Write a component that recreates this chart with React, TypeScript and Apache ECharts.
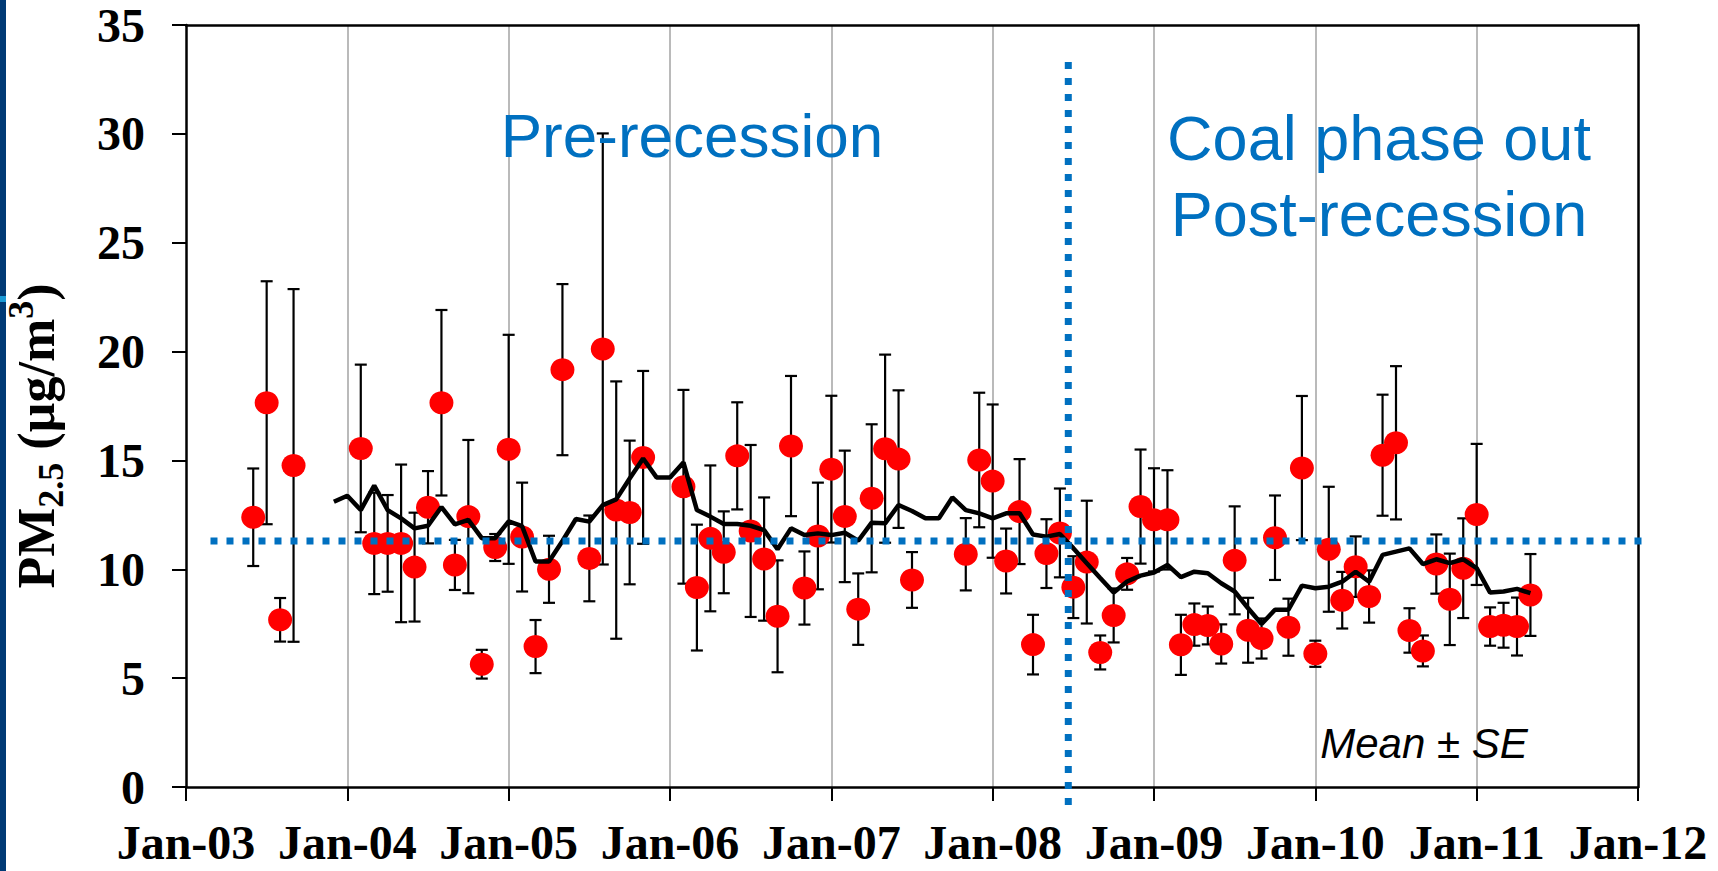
import { useEffect, useRef } from 'react';
import * as echarts from 'echarts';

// Monthly PM2.5 means (µg/m³) with their standard errors
const sampleMonths = [
  '2003-06', '2003-07', '2003-08', '2003-09',
  '2004-02', '2004-03', '2004-04', '2004-05', '2004-06', '2004-07', '2004-08', '2004-09', '2004-10', '2004-11', '2004-12',
  '2005-01', '2005-02', '2005-03', '2005-04', '2005-05', '2005-07', '2005-08', '2005-09', '2005-10', '2005-11',
  '2006-02', '2006-03', '2006-04', '2006-05', '2006-06', '2006-07', '2006-08', '2006-09', '2006-10', '2006-11', '2006-12',
  '2007-01', '2007-02', '2007-03', '2007-04', '2007-05', '2007-06', '2007-07', '2007-11', '2007-12',
  '2008-01', '2008-02', '2008-03', '2008-04', '2008-05', '2008-06', '2008-07', '2008-08', '2008-09', '2008-10', '2008-11', '2008-12',
  '2009-01', '2009-02', '2009-03', '2009-04', '2009-05', '2009-06', '2009-07', '2009-08', '2009-09', '2009-10', '2009-11', '2009-12',
  '2010-01', '2010-02', '2010-03', '2010-04', '2010-05', '2010-06', '2010-07', '2010-08', '2010-09', '2010-10', '2010-11', '2010-12',
  '2011-01', '2011-02', '2011-03', '2011-04', '2011-05',
];

const pmMean = [
  12.39, 17.65, 7.68, 14.77,
  15.55, 11.19, 11.19, 11.19, 10.1, 12.85, 17.65, 10.2, 12.42, 5.64, 11.0,
  15.51, 11.48, 6.45, 10.0, 19.17, 10.5, 20.12, 12.72, 12.61, 15.14,
  13.79, 9.16, 11.42, 10.78, 15.21, 11.76, 10.47, 7.84, 15.66, 9.14, 11.53,
  14.6, 12.43, 8.17, 13.26, 15.54, 15.06, 9.51, 10.69, 15.02,
  14.05, 10.38, 12.65, 6.54, 10.72, 11.67, 9.18, 10.33, 6.18, 7.88, 9.79, 12.88,
  12.27, 12.27, 6.53, 7.46, 7.42, 6.57, 10.41, 7.2, 6.82, 11.45, 7.34, 14.65,
  6.12, 10.92, 8.58, 10.12, 8.75, 15.24, 15.81, 7.19, 6.25, 10.24, 8.62, 10.05,
  12.52, 7.37, 7.43, 7.37, 8.82,
];

const pmSE = [
  2.24, 5.58, 1.0, 8.1,
  3.85, 2.33, 2.22, 3.62, 2.5, 1.66, 4.26, 1.15, 3.52, 0.66, 0.62,
  5.26, 2.5, 1.22, 1.54, 3.93, 1.97, 9.9, 5.91, 3.3, 3.97,
  4.45, 2.89, 3.35, 1.88, 2.46, 3.95, 2.83, 2.57, 3.22, 1.68, 2.45,
  3.37, 3.02, 1.64, 3.4, 4.32, 3.16, 1.28, 1.66, 3.09,
  3.52, 1.49, 2.41, 1.37, 1.58, 2.04, 1.42, 2.82, 0.78, 1.24, 0.73, 2.62,
  2.37, 2.28, 1.38, 0.97, 0.87, 0.9, 2.48, 1.49, 0.92, 1.94, 1.31, 3.31,
  0.6, 2.87, 1.3, 1.39, 1.2, 2.78, 3.52, 1.02, 0.71, 1.36, 2.1, 2.29,
  3.24, 0.88, 1.03, 1.33, 1.88,
];

// Running mean, one value per month starting at trendStart
const trendStart = '2003-12';
const trendValues = [
  13.1,
  13.38, 12.72, 13.84, 12.72, 12.34, 11.88, 12.0, 12.86, 12.06, 12.27, 11.43, 11.43,
  12.2, 11.98, 10.36, 10.36, 11.3, 12.31, 12.19, 12.95, 13.21, 14.17, 15.09, 14.22,
  14.22, 14.91, 12.72, 12.42, 12.08, 12.08, 12.0, 11.8, 10.92, 11.88, 11.57, 11.65,
  11.57, 11.68, 11.31, 12.14, 12.11, 12.95, 12.68, 12.34, 12.34, 13.3, 12.72, 12.57,
  12.34, 12.57, 12.57, 11.6, 11.5, 11.62, 10.97, 10.28, 9.6, 8.93, 9.44, 9.71,
  9.85, 10.2, 9.64, 9.89, 9.82, 9.36, 8.98, 8.21, 7.49, 8.14, 8.14, 9.25,
  9.13, 9.2, 9.43, 9.89, 9.43, 10.66, 10.81, 10.96, 10.24, 10.46, 10.28, 10.46,
  10.05, 8.93, 8.98, 9.1, 8.9,
];

// Overall mean level and the phase boundary
const overallMean = 11.3;
const overallMeanSpan = ['2003-02-26', '2012-02-14'];
const phaseBreak = '2008-06-20';
const phaseBreakSpan = [33.3, -1.1];

const xTickLabels = ['Jan-03', 'Jan-04', 'Jan-05', 'Jan-06', 'Jan-07', 'Jan-08', 'Jan-09', 'Jan-10', 'Jan-11', 'Jan-12'];
const yTicks = { min: 0, max: 35, step: 5 };

const BASE_YEAR = 2003;
const toX = (date: string) => {
  const [y, m, d] = date.split('-').map(Number);
  return (y - BASE_YEAR) + (m - 1) / 12 + ((d || 1) - 1) / 365;
};

const SERIF = '"Liberation Serif", "Times New Roman", serif';
const SANS = '"Liberation Sans", Arial, sans-serif';
const BLUE = '#0070C0';

export default function App() {
  const ref = useRef<HTMLDivElement>(null);

  useEffect(() => {
    document.body.style.margin = '0';
    if (!ref.current) return;
    const chart = echarts.init(ref.current, undefined, { renderer: 'svg' });

    const points = sampleMonths.map((m, i) => [toX(m), pmMean[i]]);
    const bars = sampleMonths.map((m, i) => [toX(m), pmMean[i] - pmSE[i], pmMean[i] + pmSE[i]]);
    const trendX0 = toX(trendStart);
    const trend = trendValues.map((v, i) => [trendX0 + i / 12, v]);
    const meanLine = overallMeanSpan.map((d) => [toX(d), overallMean]);
    const breakLine = phaseBreakSpan.map((v) => [toX(phaseBreak), v]);

    const axisLineStyle = { color: '#000', width: 2.5 };
    const dotted = { color: BLUE, width: 7, type: [7, 9] as number[], cap: 'butt' as const };

    chart.setOption({
      animation: false,
      grid: { left: 186, right: 80, top: 25, bottom: 84, containLabel: false },
      xAxis: [
        {
          type: 'value',
          min: 0,
          max: xTickLabels.length - 1,
          interval: 1,
          position: 'bottom',
          axisLine: { show: true, onZero: false, lineStyle: axisLineStyle },
          axisTick: { show: true, inside: false, length: 14, lineStyle: { color: '#000', width: 2 } },
          axisLabel: {
            formatter: (v: number) => xTickLabels[Math.round(v)] ?? '',
            fontFamily: SERIF,
            fontWeight: 'bold',
            fontSize: 48,
            color: '#000',
            margin: 31,
          },
          splitLine: {
            show: true,
            showMinLine: false,
            showMaxLine: false,
            lineStyle: { color: '#a3a3a3', width: 1.5 },
          },
        },
        {
          type: 'value',
          min: 0,
          max: xTickLabels.length - 1,
          position: 'top',
          axisLine: { show: true, onZero: false, lineStyle: axisLineStyle },
          axisTick: { show: false },
          axisLabel: { show: false },
          splitLine: { show: false },
        },
      ],
      yAxis: [
        {
          type: 'value',
          min: yTicks.min,
          max: yTicks.max,
          interval: yTicks.step,
          axisLine: { show: true, onZero: false, lineStyle: axisLineStyle },
          axisTick: { show: true, inside: false, length: 14, lineStyle: { color: '#000', width: 2 } },
          axisLabel: {
            fontFamily: SERIF,
            fontWeight: 'bold',
            fontSize: 48,
            color: '#000',
            margin: 41,
          },
          splitLine: { show: false },
        },
        {
          type: 'value',
          min: yTicks.min,
          max: yTicks.max,
          position: 'right',
          axisLine: { show: true, onZero: false, lineStyle: axisLineStyle },
          axisTick: { show: false },
          axisLabel: { show: false },
          splitLine: { show: false },
        },
      ],
      series: [
        {
          name: 'SE',
          type: 'custom',
          z: 2,
          clip: false,
          encode: { x: 0, y: [1, 2] },
          data: bars,
          renderItem: (_params: any, api: any) => {
            const x = api.value(0);
            const lo = api.coord([x, api.value(1)]);
            const hi = api.coord([x, api.value(2)]);
            const hw = 6;
            const style = { stroke: '#000', lineWidth: 2.2 };
            return {
              type: 'group',
              children: [
                { type: 'line', shape: { x1: hi[0], y1: hi[1], x2: lo[0], y2: lo[1] }, style },
                { type: 'line', shape: { x1: hi[0] - hw, y1: hi[1], x2: hi[0] + hw, y2: hi[1] }, style },
                { type: 'line', shape: { x1: lo[0] - hw, y1: lo[1], x2: lo[0] + hw, y2: lo[1] }, style },
              ],
            };
          },
        },
        {
          name: 'Monthly mean',
          type: 'scatter',
          z: 3,
          symbol: 'circle',
          symbolSize: [24, 23],
          itemStyle: { color: '#ff0000', opacity: 1 },
          data: points,
        },
        {
          name: 'Running mean',
          type: 'line',
          z: 4,
          showSymbol: false,
          symbol: 'none',
          lineStyle: { color: '#000', width: 4.5 },
          data: trend,
        },
        {
          name: 'Overall mean',
          type: 'line',
          z: 5,
          clip: false,
          silent: true,
          symbol: 'none',
          lineStyle: dotted,
          data: meanLine,
        },
        {
          name: 'Phase boundary',
          type: 'line',
          z: 5,
          clip: false,
          silent: true,
          symbol: 'none',
          lineStyle: dotted,
          data: breakLine,
        },
      ],
      graphic: [
        { type: 'rect', left: 0, top: 0, shape: { x: 0, y: 0, width: 6, height: 871 }, style: { fill: '#003a75' }, z: 10 },
        { type: 'rect', left: 0, top: 296, shape: { x: 0, y: 0, width: 6, height: 6 }, style: { fill: '#1a9ad6' }, z: 11 },
        {
          type: 'text',
          x: 36,
          y: 436,
          rotation: Math.PI / 2,
          z: 10,
          style: {
            text: '{m|PM}{s|2.5}{m| (µg/m}{p|3}{m|)}',
            align: 'center',
            verticalAlign: 'middle',
            textAlign: 'center',
            textVerticalAlign: 'middle',
            fill: '#000',
            rich: {
              m: { fontFamily: SERIF, fontWeight: 'bold', fontSize: 52, lineHeight: 66, fill: '#000', verticalAlign: 'middle' },
              s: { fontFamily: SERIF, fontWeight: 'bold', fontSize: 36, lineHeight: 46, fill: '#000', verticalAlign: 'bottom' },
              p: { fontFamily: SERIF, fontWeight: 'bold', fontSize: 36, lineHeight: 54, fill: '#000', verticalAlign: 'top' },
            },
          },
        },
        {
          type: 'text',
          x: 692,
          y: 135,
          z: 10,
          style: {
            text: 'Pre-recession',
            fontFamily: SANS,
            fontSize: 62,
            fill: BLUE,
            align: 'center',
            verticalAlign: 'middle',
            textAlign: 'center',
            textVerticalAlign: 'middle',
          },
        },
        {
          type: 'text',
          x: 1379,
          y: 138,
          z: 10,
          style: {
            text: 'Coal phase out',
            fontFamily: SANS,
            fontSize: 63,
            fill: BLUE,
            align: 'center',
            verticalAlign: 'middle',
            textAlign: 'center',
            textVerticalAlign: 'middle',
          },
        },
        {
          type: 'text',
          x: 1379,
          y: 214,
          z: 10,
          style: {
            text: 'Post-recession',
            fontFamily: SANS,
            fontSize: 63,
            fill: BLUE,
            align: 'center',
            verticalAlign: 'middle',
            textAlign: 'center',
            textVerticalAlign: 'middle',
          },
        },
        {
          type: 'text',
          x: 1424,
          y: 743,
          z: 10,
          style: {
            text: 'Mean ± SE',
            fontFamily: SANS,
            fontStyle: 'italic',
            fontSize: 42,
            fill: '#000',
            align: 'center',
            verticalAlign: 'middle',
            textAlign: 'center',
            textVerticalAlign: 'middle',
          },
        },
      ],
    });

    return () => chart.dispose();
  }, []);

  return <div ref={ref} style={{ width: 1718, height: 871 }} />;
}
